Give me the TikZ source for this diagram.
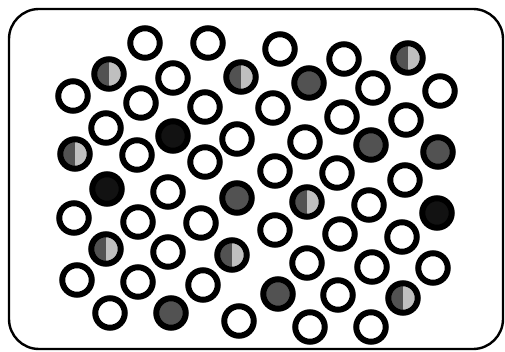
\documentclass[tikz,border=0pt]{standalone}
\usepackage{tikz}

\begin{document}
\begin{tikzpicture}[x=1pt,y=-1pt,
  ring/.style={circle,draw=black,line width=6pt,minimum size=29.5pt,inner sep=0pt,fill=white},
  greydot/.style={ring,fill=black!68},
  blackdot/.style={ring,fill=black!93},
  halfdot/.style={ring,fill=black!25,path picture={
      \fill[black!68] (path picture bounding box.south west) rectangle (path picture bounding box.north);}}]
\useasboundingbox (0,0) rectangle (505,352);
% frame
\draw[line width=2.4pt,rounded corners=30pt] (9,9) rectangle (503,349);

% empty circles
\foreach \cx/\cy [count=\i] in {145/43, 208/43, 280/49, 344/59, 173/78, 373/88, 440/91,
    73/96, 141/103, 205/107, 273/108, 342/117, 406/120, 106/128, 237/139, 305/142,
    137/155, 205/162, 275/171, 337/173, 405/180, 168/192, 369/205, 74/218, 138/222,
    201/223, 275/230, 340/234, 402/237, 168/252, 307/263, 372/267, 433/268, 77/280,
    138/282, 203/285, 338/295, 110/313, 239/321, 310/327, 371/327}
  \node[ring] (w\i) at (\cx,\cy) {};

% grey filled
\foreach \cx/\cy [count=\i] in {309/83, 371/145, 438/152, 237/198, 278/294, 171/313}
  \node[greydot] (g\i) at (\cx,\cy) {};

% black filled
\foreach \cx/\cy [count=\i] in {173/136, 107/189, 437/213}
  \node[blackdot] (b\i) at (\cx,\cy) {};

% half filled
\foreach \cx/\cy [count=\i] in {408/58, 109/74, 241/77, 75/154, 307/202, 106/249,
    232/255, 403/298}
  \node[halfdot] (h\i) at (\cx,\cy) {};

\end{tikzpicture}
\end{document}
